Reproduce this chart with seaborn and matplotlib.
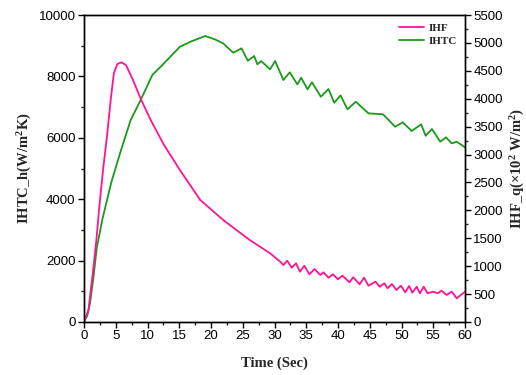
import matplotlib
matplotlib.use("Agg")
import matplotlib.pyplot as plt
import seaborn as sns
import pandas as pd
from matplotlib.ticker import MultipleLocator

# ---- data ----
ihtc_t = [0, 0.5, 0.95, 1.5, 2.0, 2.9, 4.3, 5.8, 7.35, 8.92, 10.76, 12.6, 15.1, 17.0,
          19.1, 20.6, 21.9, 23.5, 24.8, 25.8, 26.8, 27.3, 27.9, 29.3, 30.1, 31.4, 32.4,
          33.6, 34.2, 35.2, 35.9, 37.3, 38.5, 39.4, 40.4, 41.5, 42.8, 44.8, 47.1, 49.0,
          50.2, 51.6, 53.1, 53.8, 54.8, 56.1, 57.0, 57.9, 58.7, 60]
ihtc_v = [0, 200, 609, 1475, 2400, 3350, 4550, 5580, 6579, 7230, 8045, 8426, 8966, 9150,
          9315, 9208, 9077, 8771, 8914, 8511, 8664, 8393, 8501, 8230, 8501, 7882, 8133,
          7742, 7957, 7579, 7807, 7338, 7589, 7143, 7380, 6928, 7175, 6797, 6765, 6361,
          6504, 6221, 6439, 6068, 6286, 5872, 6015, 5820, 5872, 5690]

ihf_t = [0, 0.7, 1.5, 2.0, 2.36, 3.0, 3.67, 4.2, 4.7, 5.25, 5.9, 6.6, 7.6, 8.9, 10.5, 12.6,
         15.1, 18.3, 22.0, 26.1, 29.3, 30.9, 31.4, 32.0, 32.7, 33.4, 34.0, 34.7, 35.5, 36.3,
         37.2, 37.7, 38.5, 39.2, 40.0, 40.7, 41.8, 42.4, 43.4, 44.1, 44.8, 45.9, 46.6,
         47.3, 47.8, 48.5, 49.2, 49.9, 50.6, 51.2, 51.7, 52.4, 52.9, 53.5, 54.1, 55.0,
         55.7, 56.3, 57.1, 57.9, 58.7, 60]
ihf_v = [0, 215, 991, 1528, 2006, 2723, 3380, 3977, 4455, 4622, 4652, 4604, 4366, 4007, 3619, 3171,
         2723, 2186, 1820, 1469, 1231, 1080, 1021, 1098, 973, 1051, 901, 1008, 854, 949,
         842, 890, 794, 854, 765, 830, 711, 801, 675, 794, 650, 722, 632,
         693, 604, 681, 573, 650, 532, 645, 525, 632, 514, 632, 514, 543,
         514, 561, 484, 543, 424, 543]

x_ticks = list(range(0, 61, 5))
left_ticks = [0, 2000, 4000, 6000, 8000, 10000]
right_ticks = list(range(0, 5501, 500))

PINK = "#ff1493"
GREEN = "#1a9a1a"

df_ihtc = pd.DataFrame({"t": ihtc_t, "v": ihtc_v})
df_ihf = pd.DataFrame({"t": ihf_t, "v": ihf_v})

sns.set_style("ticks")
plt.rcParams["font.family"] = ["Liberation Sans", "DejaVu Sans"]
plt.rcParams["mathtext.default"] = "regular"

fig = plt.figure(figsize=(5.26, 3.75), dpi=100)
ax = fig.add_axes([84 / 526, 1 - 322 / 375, (465 - 84) / 526, (322 - 15) / 375])
ax2 = ax.twinx()

sns.lineplot(data=df_ihtc, x="t", y="v", ax=ax, color=GREEN, lw=1.3, label="IHTC",
             legend=False, sort=False)
sns.lineplot(data=df_ihf, x="t", y="v", ax=ax2, color=PINK, lw=1.3, label="IHF",
             legend=False, sort=False)

ax.set_xlim(0, 60)
ax.set_ylim(0, 10000)
ax2.set_ylim(0, 5500)
ax.set_xticks(x_ticks)
ax.set_yticks(left_ticks)
ax2.set_yticks(right_ticks)
ax.xaxis.set_minor_locator(MultipleLocator(2.5))
ax.yaxis.set_minor_locator(MultipleLocator(1000))
ax2.yaxis.set_minor_locator(MultipleLocator(250))

for a in (ax, ax2):
    for s in a.spines.values():
        s.set_visible(True)
        s.set_linewidth(1.0)
        s.set_color("black")
    a.tick_params(which="major", direction="out", length=4, width=1, labelsize=9.5,
                  colors="black", pad=2)
    a.tick_params(which="minor", direction="out", length=2.5, width=1)

serif = ["Liberation Serif", "DejaVu Serif"]
ax.set_xlabel("Time (Sec)", fontfamily=serif, fontweight="bold", fontsize=10.5, labelpad=10)
ax.set_ylabel("IHTC_h(W/m$^2$K)", fontfamily=serif, fontweight="bold", fontsize=10.5, labelpad=3)
ax2.set_ylabel("IHF_q(×10$^2$ W/m$^2$)", fontfamily=serif, fontweight="bold", fontsize=10.5,
               labelpad=4)

h1, l1 = ax2.get_legend_handles_labels()
h2, l2 = ax.get_legend_handles_labels()
leg = ax2.legend(h1 + h2, l1 + l2, loc="upper right", bbox_to_anchor=(1.0, 1.0),
                 frameon=False, handlelength=2.3, handletextpad=0.4, labelspacing=0.35,
                 borderaxespad=0.3, prop={"family": serif, "weight": "bold", "size": 8})

fig.savefig("out.png", dpi=100)
